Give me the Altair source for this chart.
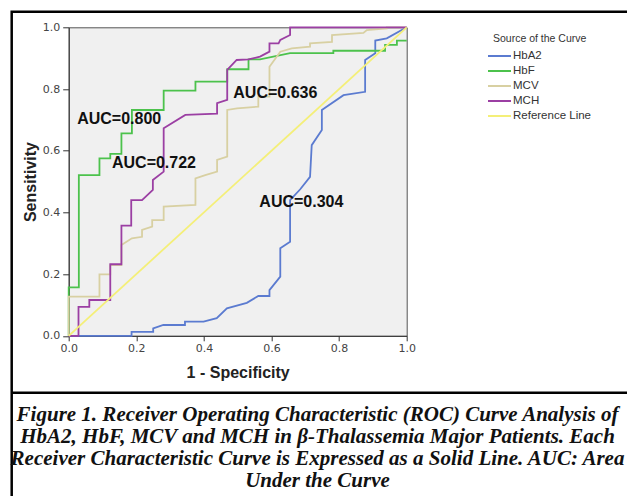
import altair as alt
import pandas as pd

# ---- data (1 - specificity, sensitivity) ----
hba2_x = [0, 0.186, 0.186, 0.25, 0.25, 0.28, 0.344, 0.344, 0.399, 0.438, 0.468, 0.527, 0.561, 0.594, 0.594,
          0.626, 0.626, 0.655, 0.655, 0.685, 0.714, 0.719, 0.749, 0.749, 0.813, 0.877, 0.877, 0.907, 0.907,
          0.941, 1.0]
hba2_y = [0, 0, 0.013, 0.013, 0.024, 0.035, 0.035, 0.046, 0.046, 0.057, 0.089, 0.107, 0.129, 0.129, 0.148,
          0.192, 0.284, 0.305, 0.44, 0.475, 0.515, 0.618, 0.667, 0.732, 0.78, 0.791, 0.894, 0.916, 0.957,
          0.964, 1.0]

hbf_x = [0, 0, 0.03, 0.03, 0.091, 0.091, 0.123, 0.123, 0.156, 0.156, 0.187, 0.187, 0.281, 0.281, 0.375,
         0.375, 0.469, 0.469, 0.532, 0.532, 0.566, 0.655, 0.783, 0.783, 0.936, 0.936, 0.971, 0.971, 1.0]
hbf_y = [0, 0.157, 0.157, 0.521, 0.521, 0.575, 0.575, 0.59, 0.59, 0.656, 0.656, 0.732, 0.732, 0.795, 0.795,
         0.824, 0.824, 0.864, 0.864, 0.896, 0.896, 0.916, 0.916, 0.924, 0.924, 0.943, 0.943, 0.957, 0.957]

mcv_x = [0, 0, 0.091, 0.091, 0.123, 0.123, 0.156, 0.156, 0.187, 0.217, 0.217, 0.247, 0.247, 0.281, 0.281,
         0.375, 0.375, 0.404, 0.439, 0.439, 0.469, 0.469, 0.498, 0.561, 0.561, 0.594, 0.594, 0.626, 0.66,
         0.714, 0.714, 0.779, 0.779, 0.872, 0.882, 0.941, 0.941, 1.0]
mcv_y = [0, 0.127, 0.127, 0.199, 0.199, 0.229, 0.229, 0.294, 0.316, 0.321, 0.343, 0.354, 0.375, 0.375, 0.419,
         0.424, 0.51, 0.521, 0.532, 0.57, 0.581, 0.732, 0.737, 0.743, 0.775, 0.775, 0.872, 0.921, 0.932,
         0.937, 0.948, 0.953, 0.975, 0.982, 0.991, 0.996, 1.0, 1.0]

mch_x = [0, 0.029, 0.029, 0.061, 0.061, 0.123, 0.123, 0.156, 0.156, 0.185, 0.185, 0.217, 0.249, 0.249, 0.281,
         0.281, 0.345, 0.439, 0.439, 0.469, 0.469, 0.497, 0.532, 0.566, 0.594, 0.594, 0.621, 0.626, 0.655,
         0.655, 1.0]
mch_y = [0, 0, 0.094, 0.094, 0.116, 0.116, 0.232, 0.232, 0.357, 0.357, 0.44, 0.44, 0.473, 0.505, 0.532,
         0.673, 0.716, 0.72, 0.754, 0.765, 0.862, 0.894, 0.896, 0.905, 0.921, 0.948, 0.948, 0.959, 0.975,
         1.0, 1.0]

ref_x = [0, 1.0]
ref_y = [0, 1.0]

curves = ["HbA2", "HbF", "MCV", "MCH", "Reference Line"]
curve_colors = ["#5b7bd0", "#4cc24c", "#d8d0a2", "#9b3fa3", "#f4ef78"]

auc_text = ["AUC=0.800", "AUC=0.722", "AUC=0.636", "AUC=0.304"]
auc_x = [0.025, 0.128, 0.487, 0.564]
auc_y = [0.702, 0.561, 0.786, 0.433]

x_ticks = [0, 0.2, 0.4, 0.6, 0.8, 1.0]
y_ticks = [0, 0.2, 0.4, 0.6, 0.8, 1.0]

caption_lines = [
    "Figure 1. Receiver Operating Characteristic (ROC) Curve Analysis of",
    "HbA2, HbF, MCV and MCH in \u03b2-Thalassemia Major Patients. Each",
    "Receiver Characteristic Curve is Expressed as a Solid Line. AUC: Area",
    "Under the Curve",
]

# ---- build tables ----
rows = []
for name, xs, ys in [("HbA2", hba2_x, hba2_y), ("HbF", hbf_x, hbf_y), ("MCV", mcv_x, mcv_y),
                     ("MCH", mch_x, mch_y), ("Reference Line", ref_x, ref_y)]:
    for i, (xv, yv) in enumerate(zip(xs, ys)):
        rows.append({"curve": name, "fpr": xv, "tpr": yv, "i": i})
df = pd.DataFrame(rows)
auc_df = pd.DataFrame({"label": auc_text, "fpr": auc_x, "tpr": auc_y})
one = pd.DataFrame({"a": [0]})

xscale = alt.Scale(domain=[0, 1], nice=False, zero=False)
yscale = alt.Scale(domain=[0, 1], nice=False, zero=False)

lines = alt.Chart(df).mark_line(strokeWidth=1.8, strokeJoin="miter").encode(
    x=alt.X("fpr:Q", scale=xscale, title="1 - Specificity",
            axis=alt.Axis(values=x_ticks, format=".1f", grid=False, labelFlush=False,
                          labelFont="DejaVu Sans", labelFontSize=11, labelColor="#444",
                          tickColor="#333", domainColor="#333", tickSize=5, labelPadding=2,
                          titleFont="Liberation Sans", titleFontSize=16, titleFontWeight="bold",
                          titleColor="#222", titlePadding=11)),
    y=alt.Y("tpr:Q", scale=yscale, title="Sensitivity",
            axis=alt.Axis(values=y_ticks, format=".1f", grid=False, labelFlush=False,
                          labelFont="DejaVu Sans", labelFontSize=11, labelColor="#444",
                          tickColor="#333", domainColor="#333", tickSize=6, labelPadding=3,
                          titleFont="Liberation Sans", titleFontSize=16, titleFontWeight="bold",
                          titleColor="#222", titlePadding=4)),
    color=alt.Color("curve:N", scale=alt.Scale(domain=curves, range=curve_colors),
                    legend=alt.Legend(title=None, orient="none", legendX=418.3, legendY=23,
                                      symbolType="stroke", symbolSize=529, symbolStrokeWidth=2,
                                      clipHeight=11.5, rowPadding=2, labelOffset=1, padding=0,
                                      labelFont="Liberation Sans", labelFontSize=11.5, labelColor="#333")),
    order=alt.Order("i:Q"),
)

auc = alt.Chart(auc_df).mark_text(align="left", baseline="middle", font="Liberation Sans",
                                  fontSize=16, fontWeight="bold", color="#111").encode(
    x=alt.X("fpr:Q", scale=xscale), y=alt.Y("tpr:Q", scale=yscale), text="label:N")

legend_title = alt.Chart(one).mark_text(align="left", baseline="middle", font="Liberation Sans",
                                        fontSize=10.5, color="#333").encode(
    x=alt.value(424.3), y=alt.value(12), text=alt.value("Source of the Curve"))

frame = alt.Chart(one).mark_rect(fillOpacity=0, stroke="black", strokeWidth=2.5).encode(
    x=alt.value(-57), x2=alt.value(580), y=alt.value(-15.6), y2=alt.value(520))

divider = alt.Chart(one).mark_rule(stroke="black", strokeWidth=2.5).encode(
    x=alt.value(-57), x2=alt.value(580), y=alt.value(365.4))

caption = alt.Chart(one).mark_text(align="center", baseline="alphabetic", font="Liberation Serif",
                                   fontSize=21, fontStyle="italic", fontWeight="bold",
                                   lineHeight=22.2, color="#111").encode(
    x=alt.value(248.8), y=alt.value(393.4), text=alt.value(caption_lines))

chart = alt.layer(lines, auc, legend_title, frame, divider, caption).properties(
    width=338, height=308.5,
    padding={"left": 60.7, "top": 19.3, "right": 220.3, "bottom": 160.2},
    autosize=alt.AutoSizeParams(type="none"),
    background="white",
).configure_view(fill="#f0f0f0", stroke="#555", strokeWidth=1)

chart.save("out.html", embed_options={"renderer": "svg", "actions": False})
